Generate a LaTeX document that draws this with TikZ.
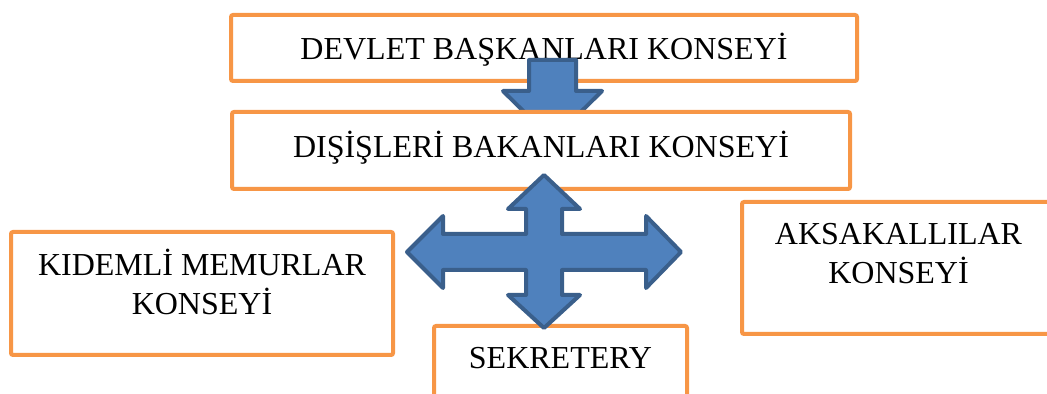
\documentclass[tikz,border=0pt]{standalone}
\usepackage{fontspec}
\setmainfont{Liberation Serif}
\definecolor{turuncu}{HTML}{F79646}
\definecolor{mavi}{HTML}{4F81BD}
\definecolor{koyumavi}{HTML}{3A5F8B}
\begin{document}
\begin{tikzpicture}[x=0.5pt,y=-0.5pt,
		kutu/.style={draw=turuncu, line width=2pt, fill=white, rounded corners=1pt, align=center, inner sep=0pt, font=\fontsize{16}{19.3}\selectfont},
		blokok/.style={draw=koyumavi, fill=mavi, line width=2pt, line join=round}]
		\useasboundingbox (0,0) rectangle (1047,394);
		\clip (0,0) rectangle (1047,394);
		% ust kurul
		\node (devlet) [kutu, minimum width=313pt, minimum height=33pt, text depth=2pt] at (544,48) {DEVLET BAŞKANLARI KONSEYİ};
		\draw [blokok] (529,60) -- (576,60) -- (576,91) -- (602,91) -- (552.5,140) -- (503,91) -- (529,91) -- cycle;
		\node (disisleri) [kutu, minimum width=309pt, minimum height=38.5pt, text depth=6pt] at (541,150.5) {DIŞİŞLERİ BAKANLARI KONSEYİ};
		% alt kurullar
		\node (kidemli) [kutu, minimum width=191pt, minimum height=61.5pt, text depth=12pt] at (202,293.5) {KIDEMLİ MEMURLAR\\KONSEYİ};
		\node (aksakal) [kutu, minimum width=156.5pt, minimum height=66pt, text depth=14.5pt] at (898.5,268) {AKSAKALLILAR\\KONSEYİ};
		\node (sekretery) [kutu, minimum width=126.5pt, minimum height=38.5pt, text depth=7pt] at (560.5,364.5) {SEKRETERY};
		% dort yonlu ok
		\coordinate (merkez) at (544,252);
		\draw [blokok] (544,175) -- (580,209) -- (562,209) -- (562,234) -- (646,234) -- (646,216) -- (681,252)
			-- (646,288) -- (646,270) -- (562,270) -- (562,295) -- (580,295) -- (544,328)
			-- (508,295) -- (526,295) -- (526,270) -- (443,270) -- (443,288) -- (407,252)
			-- (443,216) -- (443,234) -- (526,234) -- (526,209) -- (508,209) -- cycle;
	\end{tikzpicture}
\end{document}
